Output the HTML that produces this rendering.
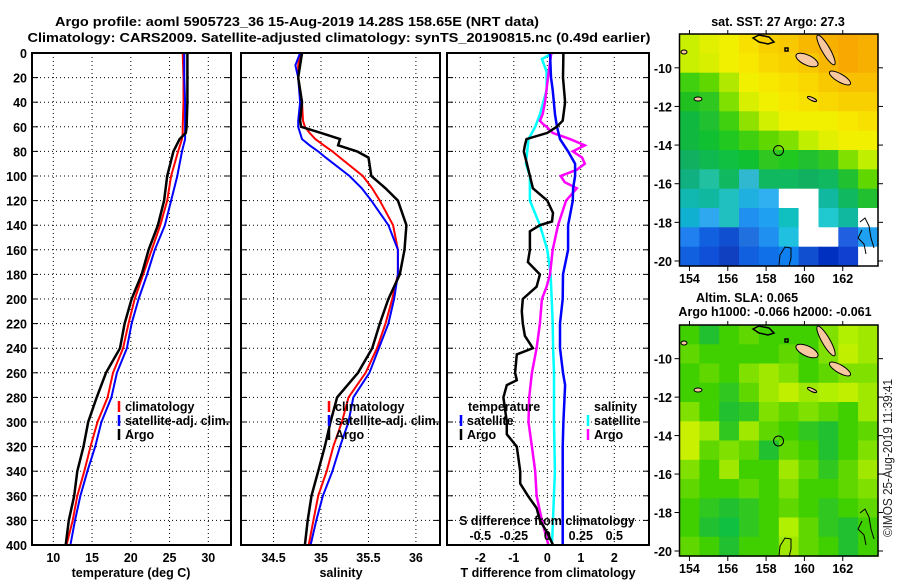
<!DOCTYPE html>
<html><head><meta charset="utf-8"><style>
html,body{margin:0;padding:0;background:#fff}
svg{display:block;font-family:"Liberation Sans",sans-serif}
.t{font-weight:bold;font-size:13px}
.k{font-weight:bold;font-size:12.5px}
</style></head><body>
<svg id="c" width="900" height="580" viewBox="0 0 900 580" xmlns="http://www.w3.org/2000/svg">
<text class="t" x="297" y="26" text-anchor="middle" textLength="484" lengthAdjust="spacingAndGlyphs">Argo profile: aoml 5905723_36 15-Aug-2019 14.28S 158.65E (NRT data)</text>
<text class="t" x="339" y="42" text-anchor="middle" textLength="623" lengthAdjust="spacingAndGlyphs">Climatology: CARS2009. Satellite-adjusted climatology: synTS_20190815.nc (0.49d earlier)</text>
<g id="grid"></g>
<g id="marks"></g>
<g id="frames"></g>
<g id="labels"></g>
<g id="maps"></g>
<text x="892" y="458" font-size="13" fill="#222" text-anchor="middle" transform="rotate(-90 892 458)" textLength="158" lengthAdjust="spacingAndGlyphs">©IMOS 25-Aug-2019 11:39:41</text>
</svg>
<script>
// ---- data ----
const depthTicks=[0,20,40,60,80,100,120,140,160,180,200,220,240,260,280,300,320,340,360,380,400];
const tempTicks=[10,15,20,25,30];
const salTicks=[34.5,35,35.5,36];
const tdTicks=[-2,-1,0,1,2];
const sdTicks=[-0.5,-0.25,0,0.25,0.5];
const sdTickLabels=["-0.5","-0.25","0","0.25","0.5"];
const tempDepths=[0,20,40,60,65,70,80,100,120,140,160,180,200,220,240,260,280,300,320,340,360,380,400];
const tempArgo=[27.3,27.3,27.3,27.2,27.1,26.3,25.5,24.7,24.3,23.5,22.3,21.4,20.1,19.2,18.6,16.8,15.6,14.5,13.9,13.1,12.7,12.0,11.6];
const tempClim=[26.7,26.8,26.8,26.7,26.7,26.6,26.1,25.2,24.7,23.8,22.7,21.6,20.5,19.7,19.0,17.7,17.0,15.7,14.8,14.0,13.1,12.5,11.7];
const tempSat=[26.9,26.9,27.0,27.0,27.0,27.0,26.6,26.0,25.2,24.4,23.1,22.1,21.0,20.1,19.5,18.2,17.5,16.2,15.4,14.4,13.5,12.8,12.2];
const salDepths=[0,10,20,40,55,60,65,70,75,80,85,100,110,120,140,160,180,200,220,240,260,280,300,320,340,360,380,400];
const salArgo=[34.80,34.78,34.76,34.80,34.78,34.79,35.0,35.20,35.18,35.38,35.50,35.53,35.68,35.81,35.90,35.88,35.83,35.71,35.62,35.54,35.39,35.17,35.10,35.04,34.97,34.90,34.86,34.83];
const salClim=[34.78,34.76,34.76,34.80,34.81,34.83,34.88,34.94,35.03,35.12,35.2,35.44,35.54,35.62,35.76,35.81,35.81,35.75,35.68,35.59,35.47,35.29,35.22,35.13,35.06,34.97,34.92,34.87];
const salSat=[34.78,34.73,34.76,34.78,34.76,34.76,34.78,34.80,34.88,34.97,35.05,35.30,35.43,35.53,35.71,35.81,35.81,35.77,35.71,35.61,35.51,35.34,35.29,35.20,35.12,35.02,34.95,34.89];
const tdArgoDepths=[0,20,40,55,60,65,70,75,80,90,100,110,120,130,137,140,145,160,170,180,190,200,210,220,230,240,245,260,266,270,280,300,310,320,340,350,360,370,380,390,400];
const tdArgo=[0.48,0.47,0.53,0.46,0.28,0,-0.62,-0.67,-0.7,-0.61,-0.52,-0.43,0,0.17,0.14,-0.22,-0.52,-0.52,-0.58,-0.22,-0.32,-0.73,-0.76,-0.73,-0.67,-0.43,-0.91,-0.96,-0.91,-1.21,-1.31,-1.21,-1.21,-0.91,-0.81,-0.81,-0.58,-0.32,-0.22,0,0.17];
const tdSatDepths=[0,20,30,50,60,70,80,90,100,110,120,140,160,180,200,220,240,260,270,300,320,400];
const tdSat=[0.08,0.11,0.16,0.23,0.29,0.38,0.62,0.83,0.83,0.77,0.76,0.62,0.62,0.47,0.46,0.38,0.38,0.47,0.53,0.48,0.46,0.46];
const sdSatDepths=[0,5,15,30,50,60,70,80,90,100,120,140,160,180,200,220,240,260,300,340,400];
const sdSat=[0.04,-0.04,-0.005,-0.005,-0.055,-0.09,-0.14,-0.15,-0.16,-0.13,-0.13,-0.055,0,0.025,0.033,0.04,0.043,0.05,0.05,0.057,0.035];
const sdArgoDepths=[0,20,40,50,55,58,60,65,70,75,80,85,90,95,100,105,110,120,140,160,180,190,200,220,240,260,280,300,320,340,360,380,400];
const sdArgo=[0.03,0.005,-0.017,-0.035,-0.055,-0.03,-0.005,0.04,0.17,0.28,0.19,0.26,0.28,0.22,0.1,0.13,0.22,0.14,0.08,0.04,0.02,-0.005,-0.04,-0.055,-0.08,-0.115,-0.135,-0.14,-0.115,-0.09,-0.08,-0.04,0.008];
const lonTicks=[154,156,158,160,162];
const latTicks=[-10,-12,-14,-16,-18,-20];
const sstColors=[
["#c8f000","#e0f000","#f0f000","#f8e000","#f8d000","#f8c800","#f8b800","#f8b000","#f8a800","#f8b000"],
["#c8f000","#d8f000","#f0f000","#f8e800","#f8d800","#f8d000","#f8c800","#f8b800","#f8a800","#f8b000"],
["#40d010","#60d800","#b0e800","#f0f000","#f8e800","#f8e000","#f8d800","#f8c800","#f8c000","#f8c000"],
["#20c020","#30c820","#80e000","#d8f000","#f0f000","#f8e800","#f8e000","#f8d800","#f8d000","#f8d000"],
["#10b840","#20c030","#40d010","#90e000","#d0f000","#f0f000","#f0f000","#f0f000","#f8e800","#f8e000"],
["#10b840","#10c030","#20c820","#40d010","#60d800","#80e000","#c0f000","#e0f000","#f0f000","#f0f000"],
["#10b060","#10b850","#10c040","#10c030","#30c820","#20c820","#20c030","#30c820","#80e000","#c0f000"],
["#10b080","#20c0a0","#10b860","#30b8d0","#10b860","#10b860","#10b060","#10b860","#20c030","#60d800"],
["#10b8b0","#10b8a0","#20c0c0","#20b0e0","#30b0f0","#ffffff","#ffffff","#10b8a0","#10b860","#20c030"],
["#10b0d0","#30a8f0","#20c0c0","#2090f0","#20a0f0","#10c0c0","#ffffff","#20c8d0","#10b8a0","#ffffff"],
["#2080f0","#1060e0","#1050d0","#2070e0","#2090f0","#20c0e0","#ffffff","#ffffff","#2060e0","#20a0f0"],
["#1060e0","#1050d8","#1040c0","#1060e0","#1070e8","#1080f0","#1050d0","#0030c0","#1040d0","#ffffff"]];
const slaColors=[
["#40d000","#20c030","#40d000","#60d800","#40d000","#40d000","#40d000","#80e000","#b0f000","#a0e800"],
["#60d800","#40d000","#40d000","#40d000","#40d000","#60d800","#40d000","#80e000","#c0f000","#a0e800"],
["#40d000","#60d800","#40d000","#80e000","#a0e800","#80e000","#40d000","#60d800","#80e000","#80e000"],
["#40d000","#40d000","#30c820","#60d800","#a0e800","#c0f000","#a0e800","#b0f000","#c0f000","#a0e800"],
["#80e000","#40d000","#20c030","#30c820","#80e000","#60d800","#80e000","#60d800","#40d000","#a0e800"],
["#c8f000","#a0e800","#30c820","#a0e800","#60d800","#40d000","#30c820","#20c030","#40d000","#60d800"],
["#c8f000","#60d800","#80e000","#60d800","#20c030","#60d800","#40d000","#20c030","#40d000","#80e000"],
["#80e000","#40d000","#a0e800","#40d000","#40d000","#a0e800","#60d800","#30c820","#60d800","#a0e800"],
["#60d800","#40d000","#40d000","#60d800","#40d000","#80e000","#40d000","#40d000","#60d800","#80e000"],
["#40d000","#30c820","#20c030","#30c820","#40d000","#60d800","#40d000","#30c820","#40d000","#60d800"],
["#40d000","#20c030","#10c040","#30c820","#40d000","#b0f000","#60d800","#30c820","#20c030","#40d000"],
["#60d800","#40d000","#20c030","#40d000","#40d000","#a0e800","#60d800","#40d000","#20c030","#40d000"]];
const argoLon=[158.65], argoLat=[-14.28];

// ---- scales ----
const TOP=53,BOT=545;
const yD=d=>TOP+d*1.23;
const xT=t=>32+(t-7.25)*7.75;
const xS=s=>241+(s-34.157)*94.9;
const xTD=v=>547.3+v*33.5;
const xSD=v=>547.3+v*134;
const panels=[[32,231],[241,440],[447,649]];
const NS="http://www.w3.org/2000/svg";
function mk(tag,attrs,parent){const e=document.createElementNS(NS,tag);for(const k in attrs)e.setAttribute(k,attrs[k]);parent.appendChild(e);return e;}
const G=document.getElementById('grid'),M=document.getElementById('marks'),F=document.getElementById('frames'),L=document.getElementById('labels'),MP=document.getElementById('maps');

// grids
panels.forEach((p,pi)=>{
  depthTicks.forEach(d=>{
    if(d===0||d===400)return;
    const l=mk('line',{x1:p[0],x2:p[1],y1:yD(d),y2:yD(d),stroke:'#000','stroke-width':1,'stroke-dasharray':'1 3'},G);
    
    
    const t1=mk('line',{x1:p[0],x2:p[0]+6,y1:yD(d),y2:yD(d),stroke:'#000','stroke-width':1},G);
    
    
    const t2=mk('line',{x1:p[1]-6,x2:p[1],y1:yD(d),y2:yD(d),stroke:'#000','stroke-width':1},G);
    
    
  });
});
function vgrid(vals,fx){vals.forEach(v=>{const l=mk('line',{x1:fx(v),x2:fx(v),y1:TOP,y2:BOT,stroke:'#000','stroke-width':1,'stroke-dasharray':'1 3'},G);
  
  });}
vgrid(tempTicks,xT);vgrid(salTicks,xS);vgrid(tdTicks,xTD);

// series
function series(xs,ds,fx,color,w,name){
  const pts=xs.map((v,i)=>fx(v).toFixed(1)+','+yD(ds[i]).toFixed(1)).join(' ');
  const e=mk('polyline',{points:pts,fill:'none',stroke:color,'stroke-width':w,'stroke-linejoin':'miter'},M);
  
  
}
series(tempClim,tempDepths,xT,'#f00',2,'temp-climatology-line');
series(tempSat,tempDepths,xT,'#00f',2,'temp-satellite-line');
series(tempArgo,tempDepths,xT,'#000',2.5,'temp-argo-line');
series(salClim,salDepths,xS,'#f00',2,'sal-climatology-line');
series(salSat,salDepths,xS,'#00f',2,'sal-satellite-line');
series(salArgo,salDepths,xS,'#000',2.5,'sal-argo-line');
series(sdSat,sdSatDepths,xSD,'#0ff',2.5,'sdiff-satellite-line');
series(sdArgo,sdArgoDepths,xSD,'#f0f',2.5,'sdiff-argo-line');
series(tdSat,tdSatDepths,xTD,'#00f',2.5,'tdiff-satellite-line');
series(tdArgo,tdArgoDepths,xTD,'#000',2.5,'tdiff-argo-line');

// frames
panels.forEach(p=>{const r=mk('rect',{x:p[0],y:TOP,width:p[1]-p[0],height:BOT-TOP,fill:'none',stroke:'#000','stroke-width':2},F);
  
  });

// labels
function txt(s,x,y,anchor,cls,name,parent){const e=mk('text',{x:x,y:y,'text-anchor':anchor||'start',class:cls||'k'},parent||L);e.textContent=s;
  
  return e;}
depthTicks.forEach(d=>txt(String(d),27,yD(d)+5,'end','k','depth-tick-label'));
tempTicks.forEach(v=>txt(String(v),xT(v),562,'middle','k','temp-tick-label'));
salTicks.forEach(v=>txt(String(v),xS(v),562,'middle','k','sal-tick-label'));
tdTicks.forEach(v=>txt(String(v),xTD(v),562,'middle','k','tdiff-tick-label'));
sdTicks.forEach((v,i)=>txt(sdTickLabels[i],xSD(v),540,'middle','k','sdiff-tick-label'));
txt('temperature (deg C)',131,577,'middle','k','temp-axis-title');
txt('salinity',341,577,'middle','k','sal-axis-title');
txt('T difference from climatology',548,577,'middle','k','tdiff-axis-title');
txt('S difference from climatology',547,525,'middle','k','sdiff-axis-title');
function leg(x,y,color,s,name){const b=mk('line',{x1:x,x2:x,y1:y-10,y2:y+1,stroke:color,'stroke-width':2.5},L);
  
  
  txt(s,x+6,y,'start','k',name);}
leg(119,411,'#f00','climatology','legend-climatology');
leg(119,425,'#00f','satellite-adj. clim.','legend-satellite-adj');
leg(119,439,'#000','Argo','legend-argo');
leg(329,411,'#f00','climatology','legend-climatology-2');
leg(329,425,'#00f','satellite-adj. clim.','legend-satellite-adj-2');
leg(329,439,'#000','Argo','legend-argo-2');
txt('temperature',468,411,'start','k','legend-temperature-heading');
leg(461,425,'#00f','satellite','legend-t-satellite');
leg(461,439,'#000','Argo','legend-t-argo');
txt('salinity',594,411,'start','k','legend-salinity-heading');
leg(588,425,'#0ff','satellite','legend-s-satellite');
leg(588,439,'#f0f','Argo','legend-s-argo');

// maps
const mapX0=679.5,mapX1=878,lon0=153.48,lon1=163.84;
const mx=lon=>mapX0+(lon-lon0)/(lon1-lon0)*(mapX1-mapX0);
function drawMap(colors,y0,y1,name){
  const lat0=-8.25, lat1=-20.26;
  const my=lat=>y0+(lat-lat0)/(lat1-lat0)*(y1-y0);
  const g=mk('g',{},MP);
  
  
  const rows=colors.length,cols=colors[0].length,cw=(mapX1-mapX0)/cols,ch=(y1-y0)/rows;
  colors.forEach((row,r)=>row.forEach((c,ci)=>{const e=mk('rect',{x:(mapX0+ci*cw).toFixed(1),y:(y0+r*ch).toFixed(1),width:(cw+0.6).toFixed(1),height:(ch+0.6).toFixed(1),fill:c},g);
    
    }));
  const o=y0-34;
  const isl=[[807,60,12,5,25],[826,50,4,17,-30],[840,78,12,4,30],[698,99,4,2,0],[684,52,3,2,0],[812,99,5,1.5,25]];
  isl.forEach(a=>{const e=mk('ellipse',{cx:a[0],cy:a[1]+o,rx:a[2],ry:a[3],fill:'#f8c8a0',stroke:'#000','stroke-width':1,transform:`rotate(${a[4]} ${a[0]} ${a[1]+o})`},g);
    
    });
  const blk=mk('path',{d:`M753 ${38+o} l6 -3 l10 2 l5 5 l-6 2 l-9 -2 z M785 ${48+o} l3 0 l0 3 l-3 0z`,fill:'none',stroke:'#000','stroke-width':1.5},g);
  
  
  const cst=mk('path',{d:`M779 ${265+o} l1 -10 l5 -8 l6 1 l0 10 l-2 8 M860 ${222+o} l5 -4 l4 8 l2 12 l3 10 M862 ${230+o} l-4 8 l6 6 l2 10`,fill:'none',stroke:'#000','stroke-width':1},g);
  
  
  const ci=mk('circle',{cx:mx(argoLon[0]),cy:my(argoLat[0]),r:5,fill:'none',stroke:'#000','stroke-width':1},g);
  
  
  const fr=mk('rect',{x:mapX0,y:y0,width:mapX1-mapX0,height:y1-y0,fill:'none',stroke:'#000','stroke-width':1.5},g);
  
  
  latTicks.forEach(v=>{const yy=my(v);
    const a=mk('line',{x1:mapX0-5,x2:mapX0,y1:yy,y2:yy,stroke:'#000'},g);
    
    
    const b=mk('line',{x1:mapX1,x2:mapX1+5,y1:yy,y2:yy,stroke:'#000'},g);
    
    
    txt(String(v),672,yy+5,'end','k','lat-tick-label',g);});
  lonTicks.forEach(v=>{const xx=mx(v);
    const a=mk('line',{x1:xx,x2:xx,y1:y1,y2:y1+5,stroke:'#000'},g);
    
    
    const b=mk('line',{x1:xx,x2:xx,y1:y0-4,y2:y0,stroke:'#000'},g);
    
    
    txt(String(v),xx,y1+17,'middle','k','lon-tick-label',g);});
}
drawMap(sstColors,34,266,'sst-map');
drawMap(slaColors,325,556,'sla-map');
txt('sat. SST: 27 Argo: 27.3',778,26,'middle','k','sst-map-title');
txt('Altim. SLA: 0.065',747,302,'middle','k','sla-map-title');
txt('Argo h1000: -0.066 h2000: -0.061',775,316,'middle','k','sla-map-subtitle');
</script>
</body></html>
